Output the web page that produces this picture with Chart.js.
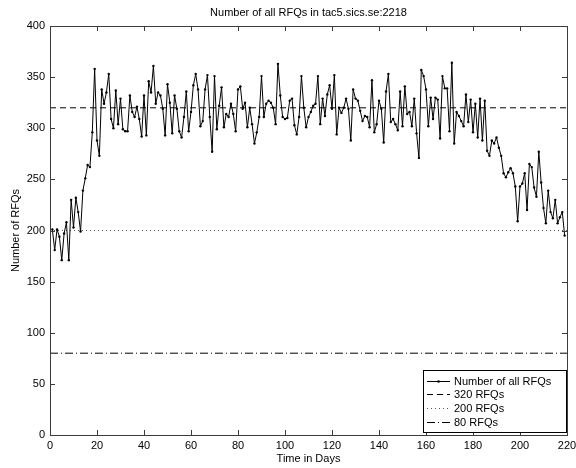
<!doctype html>
<html lang="en">
  <head>
    <meta charset="UTF-8" />
    <title>Number of all RFQs</title>
    <style>
      html, body { margin: 0; padding: 0; background: #fff; }
      .chart-container { position: relative; width: 576px; height: 468px; }
    </style>
  </head>
  <body>
    <div class="chart-container">
      <canvas id="rfqChart"></canvas>
    </div>
    <script src="https://cdn.jsdelivr.net/npm/chart.js"></script>
    <script>
      // daily RFQ counts (day 1 .. 219)
      const rfqs = [
        201, 181, 201, 194, 171, 197, 208, 171, 230, 203, 232, 218, 199, 239, 251, 264, 262, 296, 358, 288, 273, 338, 324, 335, 353,
        309, 300, 337, 304, 329, 299, 297, 297, 332, 316, 311, 321, 309, 292, 332, 293, 346, 335, 361, 324, 335, 332, 319, 293,
        343, 325, 295, 332, 319, 297, 291, 311, 336, 297, 316, 342, 353, 338, 302, 307, 338, 352, 311, 277, 351, 299, 322,
        340, 301, 314, 311, 324, 314, 297, 338, 341, 319, 325, 301, 320, 304, 285, 296, 311, 351, 311, 324, 327, 325, 320,
        304, 363, 332, 311, 309, 310, 327, 329, 303, 294, 311, 351, 320, 301, 311, 316, 322, 324, 351, 304, 329, 312, 333, 342,
        319, 352, 294, 320, 315, 320, 329, 319, 288, 338, 329, 327, 317, 307, 312, 311, 301, 347, 296, 304, 327, 319, 286,
        336, 353, 306, 309, 304, 298, 336, 302, 341, 314, 316, 302, 329, 295, 271, 357, 351, 338, 302, 330, 309, 330, 328, 290,
        351, 339, 339, 297, 364, 285, 316, 312, 307, 302, 333, 306, 328, 296, 324, 291, 329, 288, 327, 278, 273, 288, 285,
        291, 281, 273, 256, 252, 257, 261, 256, 243, 209, 243, 246, 256, 220, 265, 262, 242, 233, 277, 247, 222, 207, 239, 218,
        212, 230, 207, 213, 218, 195
      ];
      const days = rfqs.map((_, i) => i + 1);

      const levels = [320, 200, 80];
      const levelNames = ["320 RFQs", "200 RFQs", "80 RFQs"];
      const levelDashes = [[6, 4], [1, 3], [8, 3, 1, 3]];

      const xTicks = [0, 20, 40, 60, 80, 100, 120, 140, 160, 180, 200, 220];
      const yTicks = [0, 50, 100, 150, 200, 250, 300, 350, 400];

      const FONT = "'Liberation Sans', Arial, Helvetica, sans-serif";
      const AXIS_COLOR = "#3c3c3c";

      const datasets = [
        {
          label: "Number of all RFQs",
          data: days.map((d, i) => ({ x: d, y: rfqs[i] })),
          borderColor: "#000",
          backgroundColor: "#000",
          borderWidth: 1,
          pointRadius: 1.2,
          pointBorderWidth: 0,
          pointBackgroundColor: "#000",
          tension: 0,
        },
      ];
      levels.forEach((lv, i) => {
        datasets.push({
          label: levelNames[i],
          data: [
            { x: xTicks[0], y: lv },
            { x: xTicks[xTicks.length - 1], y: lv },
          ],
          borderColor: i === 1 ? "#555" : "#000",
          borderWidth: 1,
          borderDash: levelDashes[i],
          pointRadius: 0,
        });
      });

      // MATLAB-style box with inward ticks, title and legend
      const matlabAxes = {
        id: "matlabAxes",
        afterDraw(chart) {
          const { ctx, chartArea: a, scales } = chart;
          ctx.save();
          ctx.strokeStyle = AXIS_COLOR;
          ctx.lineWidth = 1;
          ctx.setLineDash([]);
          ctx.strokeRect(a.left + 0.5, a.top + 0.5, a.right - a.left, a.bottom - a.top);
          const tl = 5;
          ctx.beginPath();
          xTicks.forEach((v) => {
            const px = Math.round(scales.x.getPixelForValue(v)) + 0.5;
            ctx.moveTo(px, a.bottom);
            ctx.lineTo(px, a.bottom - tl);
            ctx.moveTo(px, a.top);
            ctx.lineTo(px, a.top + tl);
          });
          yTicks.forEach((v) => {
            const py = Math.round(scales.y.getPixelForValue(v)) + 0.5;
            ctx.moveTo(a.left, py);
            ctx.lineTo(a.left + tl, py);
            ctx.moveTo(a.right, py);
            ctx.lineTo(a.right - tl, py);
          });
          ctx.stroke();

          // title
          ctx.fillStyle = "#000";
          ctx.font = "11px " + FONT;
          ctx.textAlign = "center";
          ctx.textBaseline = "middle";
          ctx.fillText("Number of all RFQs in tac5.sics.se:2218", (a.left + a.right) / 2, 13);

          // legend
          const w = 144, h = 63;
          const lx = a.right - w, ly = a.bottom - 2 - h;
          ctx.fillStyle = "#fff";
          ctx.fillRect(lx, ly, w, h);
          ctx.strokeStyle = "#000";
          ctx.strokeRect(lx + 0.5, ly + 0.5, w - 1, h - 1);
          chart.data.datasets.forEach((ds, i) => {
            const y = Math.round(ly + 10.5 + i * 13.7) + 0.5;
            ctx.strokeStyle = ds.borderColor;
            ctx.setLineDash(ds.borderDash || []);
            ctx.beginPath();
            ctx.moveTo(lx + 4, y);
            ctx.lineTo(lx + 27, y);
            ctx.stroke();
            ctx.setLineDash([]);
            if (i === 0) {
              ctx.fillStyle = "#000";
              ctx.beginPath();
              ctx.arc(lx + 15.5, y, 1.3, 0, Math.PI * 2);
              ctx.fill();
            }
            ctx.fillStyle = "#000";
            ctx.textAlign = "left";
            ctx.fillText(ds.label, lx + 31, y);
          });
          ctx.restore();
        },
      };

      const ctx = document.getElementById("rfqChart").getContext("2d");
      new Chart(ctx, {
        type: "line",
        data: { datasets: datasets },
        options: {
          responsive: true,
          maintainAspectRatio: false,
          animation: false,
          layout: { padding: { top: 26, right: 9, left: 0, bottom: 0 } },
          plugins: {
            legend: { display: false },
            title: { display: false },
            tooltip: { enabled: false },
          },
          scales: {
            x: {
              type: "linear",
              min: 0,
              max: 220,
              afterBuildTicks: (s) => { s.ticks = xTicks.map((v) => ({ value: v })); },
              afterFit: (s) => { s.height = 33; s.paddingLeft = 0; s.paddingRight = 0; },
              grid: { display: false, drawTicks: false },
              border: { display: false },
              ticks: { color: "#000", font: { family: FONT, size: 11 }, padding: 4, maxRotation: 0 },
              title: {
                display: true,
                text: "Time in Days",
                color: "#000",
                font: { family: FONT, size: 11 },
                padding: { top: 0, bottom: 2 },
              },
            },
            y: {
              min: 0,
              max: 400,
              afterBuildTicks: (s) => { s.ticks = yTicks.map((v) => ({ value: v })); },
              afterFit: (s) => { s.width = 50; s.paddingTop = 0; s.paddingBottom = 0; },
              grid: { display: false, drawTicks: false },
              border: { display: false },
              ticks: { color: "#000", font: { family: FONT, size: 11 }, padding: 5 },
              title: {
                display: true,
                text: "Number of RFQs",
                color: "#000",
                font: { family: FONT, size: 11 },
                padding: { top: 9, bottom: 0 },
              },
            },
          },
        },
        plugins: [matlabAxes],
      });
    </script>
  </body>
</html>
